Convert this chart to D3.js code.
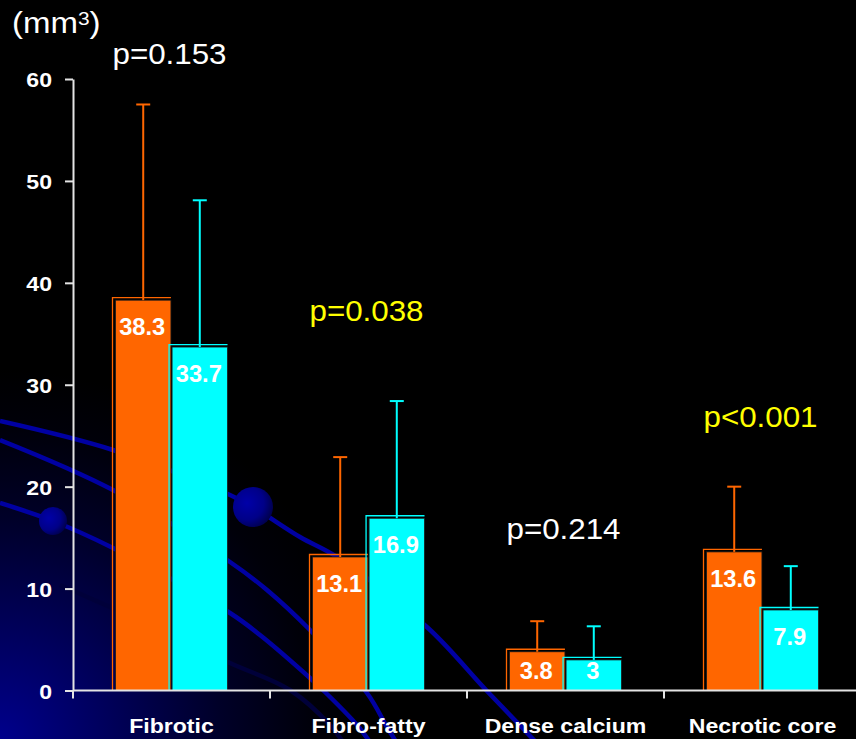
<!DOCTYPE html>
<html>
<head>
<meta charset="utf-8">
<script src="https://cdn.jsdelivr.net/npm/d3@7"></script>
<style>
  html, body { margin: 0; padding: 0; background: #000; }
  svg { display: block; }
  text { font-family: "Liberation Sans", Arial, sans-serif; }
</style>
</head>
<body>
<svg id="chart" width="856" height="739"></svg>
<script>
// ---- data ----
const categories = ["Fibrotic", "Fibro-fatty", "Dense calcium", "Necrotic core"];
const seriesKeys = ["groupA", "groupB"];
const groupA = [38.3, 13.1, 3.8, 13.6];      // orange bars (mean)
const groupB = [33.7, 16.9, 3, 7.9];         // cyan bars (mean)
const groupASD = [19.2, 9.8, 3.0, 6.4];      // upper error (SD)
const groupBSD = [14.4, 11.5, 3.3, 4.3];
const pLabels = ["p=0.153", "p=0.038", "p=0.214", "p<0.001"];
const pValues = [0.153, 0.038, 0.214, 0.001];
const yTicks = [0, 10, 20, 30, 40, 50, 60];

// ---- layout ----
const W = 856, H = 739;
const axisX = 73, step = 197;
const pLabelLevel = [61.5, 36.3, 14.9, 25.9];   // height of each p label, in axis units
const colors = { groupA: "#FF6600", groupB: "#00FFFF" };
const stretch = 1.1;

const svg = d3.select("#chart");
const defs = svg.append("defs");

// background glow in the lower-left corner
const bg = defs.append("radialGradient").attr("id", "bgGlow")
  .attr("gradientUnits", "userSpaceOnUse")
  .attr("cx", 0).attr("cy", H).attr("r", 370);
[[0, "rgb(0,0,140)"], [0.3, "rgb(0,0,90)"], [0.6, "rgb(0,0,40)"], [0.85, "rgb(0,0,9)"], [1, "#000"]]
  .forEach(([o, c]) => bg.append("stop").attr("offset", o).attr("stop-color", c));

const ball = defs.append("radialGradient").attr("id", "ball")
  .attr("cx", "35%").attr("cy", "40%").attr("r", "70%");
[[0, "#0000a8"], [0.6, "#000088"], [1, "#000045"]]
  .forEach(([o, c]) => ball.append("stop").attr("offset", o).attr("stop-color", c));

svg.append("rect").attr("width", W).attr("height", H).attr("fill", "#000");
svg.append("rect").attr("width", W).attr("height", H).attr("fill", "url(#bgGlow)");

// decorative orbit lines
const orbitLine = d3.line().curve(d3.curveCatmullRom.alpha(0.5));
const orbits = [
  [[0, 421], [113, 450], [230, 495], [253, 507], [300, 537], [337, 557], [428, 628], [486, 690], [532, 738], [545, 752]],
  [[0, 440], [113, 490], [230, 562], [267, 590], [310, 630], [367, 693], [387, 727], [398, 745]],
  [[0, 503], [53, 521], [113, 548], [230, 613], [260, 635], [310, 678], [325, 692], [357, 725], [372, 745]]
];
const faintOrbit = [[60, 585], [150, 625], [230, 663], [290, 690], [330, 725], [345, 745]];
const deco = svg.append("g");
deco.append("path").attr("d", orbitLine(faintOrbit))
  .attr("fill", "none").attr("stroke", "#00003a").attr("stroke-width", 4.5);
orbits.forEach(pts => deco.append("path").attr("d", orbitLine(pts))
  .attr("fill", "none").attr("stroke", "#0000a2").attr("stroke-width", 4.5));
[[53, 521, 14], [253, 507, 20]].forEach(([cx, cy, r]) =>
  deco.append("circle").attr("cx", cx).attr("cy", cy).attr("r", r).attr("fill", "url(#ball)"));

// ---- scales ----
const x = d3.scaleBand().domain(categories).range([axisX, axisX + step * categories.length]);
const xInner = d3.scaleBand().domain(seriesKeys).range([-56, 56]).paddingInner(0.02);
const y = d3.scaleLinear().domain([0, 60]).range([690.5, 79]);

const rows = categories.map((c, i) => ({
  cat: c,
  bars: [
    { key: "groupA", v: groupA[i], sd: groupASD[i] },
    { key: "groupB", v: groupB[i], sd: groupBSD[i] }
  ]
}));

// helper for horizontally widened text
function stretchedText(g, tx, ty, sx) {
  return g.append("text").attr("transform", `translate(${tx},${ty}) scale(${sx},1)`);
}

// ---- bars ----
const gBars = svg.append("g");
rows.forEach(row => {
  const cx = x(row.cat) + x.bandwidth() / 2;
  row.bars.forEach(b => {
    const bx = cx + xInner(b.key), bw = xInner.bandwidth();
    const top = y(b.v), base = y(0);
    const col = colors[b.key];
    // back frame
    gBars.append("path")
      .attr("d", `M${bx - 3},${base} V${top - 2.5} H${bx + bw}`)
      .attr("fill", "none").attr("stroke", col).attr("stroke-width", 1.3);
    gBars.append("rect")
      .attr("x", bx).attr("y", top).attr("width", bw).attr("height", base - top)
      .attr("fill", col).attr("stroke", "#1a1a1a").attr("stroke-width", 0.8);
    // error bar
    const ex = bx + bw / 2, etop = y(b.v + b.sd);
    gBars.append("line").attr("x1", ex).attr("x2", ex).attr("y1", top).attr("y2", etop)
      .attr("stroke", col).attr("stroke-width", 2);
    gBars.append("line").attr("x1", ex - 7).attr("x2", ex + 7).attr("y1", etop).attr("y2", etop)
      .attr("stroke", col).attr("stroke-width", 2);
    // value label
    const ly = Math.min(top + 35, base - 12);
    stretchedText(gBars, ex - 1, ly, 1.03)
      .attr("text-anchor", "middle").attr("fill", "#fff")
      .attr("font-size", 23).attr("font-weight", "bold")
      .text(b.v);
  });
});

// ---- axes ----
const axisColor = "#e4e4e4";
const yAxis = svg.append("g").attr("transform", `translate(${axisX},0)`)
  .call(d3.axisLeft(y).tickValues(yTicks).tickSize(8).tickSizeOuter(0).tickFormat(""));
yAxis.selectAll("path, line").attr("stroke", axisColor).attr("stroke-width", 2);
yAxis.selectAll(".tick").each(function (d) {
  stretchedText(d3.select(this), -21, 7.5, stretch)
    .attr("text-anchor", "end").attr("fill", "#fff")
    .attr("font-size", 21).attr("font-weight", "bold")
    .text(d);
});

const xAxis = svg.append("g");
xAxis.append("line").attr("x1", axisX).attr("x2", W).attr("y1", y(0)).attr("y2", y(0))
  .attr("stroke", axisColor).attr("stroke-width", 2);
categories.forEach(c => {
  xAxis.append("line").attr("x1", x(c)).attr("x2", x(c)).attr("y1", y(0)).attr("y2", y(0) + 8)
    .attr("stroke", axisColor).attr("stroke-width", 2);
  stretchedText(xAxis, x(c) + x.bandwidth() / 2, 733, stretch)
    .attr("text-anchor", "middle").attr("fill", "#fff")
    .attr("font-size", 21).attr("font-weight", "bold")
    .text(c);
});

// ---- p values ----
categories.forEach((c, i) => {
  stretchedText(svg, x(c) + x.bandwidth() / 2 - 2, y(pLabelLevel[i]), 1.08)
    .attr("text-anchor", "middle")
    .attr("fill", pValues[i] < 0.05 ? "#FFFF00" : "#fff")
    .attr("font-size", 29)
    .text(pLabels[i]);
});

// ---- unit label ----
const unit = stretchedText(svg, 12, 32.5, stretch).attr("fill", "#fff").attr("font-size", 30);
unit.append("tspan").text("(mm");
unit.append("tspan").attr("font-size", 19).attr("dy", -8).text("3");
unit.append("tspan").attr("dy", 8).text(")");
</script>
</body>
</html>
